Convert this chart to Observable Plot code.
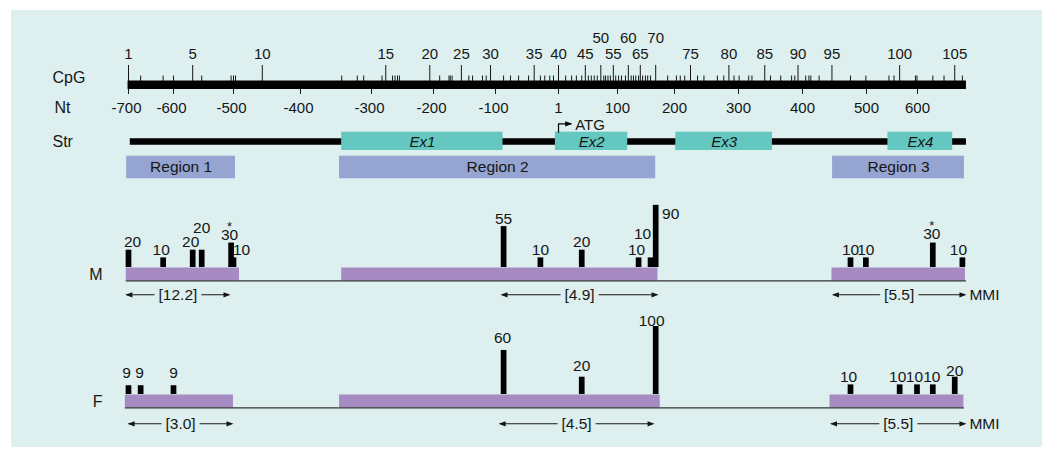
<!DOCTYPE html>
<html><head><meta charset="utf-8">
<script src="https://cdn.jsdelivr.net/npm/d3@7"></script>
<script src="https://cdn.jsdelivr.net/npm/@observablehq/plot@0.6"></script>
<style>
html,body{margin:0;padding:0;background:#fff}
body{width:1050px;height:462px;position:relative;overflow:hidden;font-family:"Liberation Sans",Arial,Helvetica,sans-serif}
#panel{position:absolute;left:11px;top:10px;width:1031px;height:437px;background:#ddf0ef}
.plot{position:absolute;left:0}
</style></head><body>
<div id="panel"></div>
<div id="top" class="plot" style="top:0px"></div>
<div id="mrow" class="plot" style="top:180px"></div>
<div id="frow" class="plot" style="top:300px"></div>
<script>
// ---------- DATA ----------
const ntTicks = [-700,-600,-500,-400,-300,-200,-100,1,100,200,300,400,500,600];
const ntTickLabels = ["-700","-600","-500","-400","-300","-200","-100","1","100","200","300","400","500","600"];
// nucleotide position of each CpG site (1..106)
const cpgNt = [-700,-673,-623,-600,-568,-553,-504,-500,-497,-457,
  -342,-320,-311,-283,-277,-266,-262,-258,-255,-206,
  -190,-175,-173,-170,-155,-143,-137,-121,-115,-108,
  -87,-76,-63,-47,-38,-28,-21,-13,-7,1,
  13,23,31,40,46,51,56,61,66,72,
  77,80,84,88,93,97,102,107,114,119,
  124,128,132,137,140,144,149,153,158,167,
  188,203,209,216,225,236,246,267,277,285,
  293,301,316,321,341,350,366,383,388,393,
  405,410,413,426,446,475,499,544,554,565,
  596,599,630,652,673,688];
const cpgLabels = [1,5,10,15,20,25,30,35,40,45,50,55,60,65,70,75,80,85,90,95,100,105];
const cpgRaised = [50,60,70];
const rulerSpan = [-701,696];
const strSpan = [-696,696];
const exonNames = ["Ex1","Ex2","Ex3","Ex4"];
const exonStart = [-342,-4,202,542];
const exonEnd = [-88,118,353,669];
const atgNt = 1, atgTip = 24;
const regionNames = ["Region 1","Region 2","Region 3"];
const regionStart = [-704,-345,447];
const regionEnd = [-497,167,692];

// M row
const mCpG = [1,3,5,6,8,7,31,36,44,64,69,70,96,97,103,106];
const mPct = [20,10,20,20,10,30,55,10,20,10,10,90,10,10,30,10];
const mStars = [7,103];
const mBoxStart = [-705,-342,446];
const mBoxEnd = [-491,171,694];
const mLine = [-705,696];
const mMMI = [12.2,4.9,5.5];
const mArrowFrom = [-707,-92,446];
const mArrowTo = [-505,172,696];
// F row
const fCpG = [1,2,4,31,44,70,96,100,102,103,105];
const fPct = [9,9,9,60,20,100,10,10,10,10,20];
const fStars = [];
const fBoxStart = [-707,-345,443];
const fBoxEnd = [-500,175,691];
const fLine = [-707,692];
const fMMI = [3.0,4.5,5.5];
const fArrowFrom = [-702,-95,443];
const fArrowTo = [-500,165,696];

// ---------- LAYOUT / STYLE ----------
const FONT = '"Liberation Sans", Arial, Helvetica, sans-serif';
const INK = "#161616", BG = "#ddf0ef", TEAL = "#64c8c0", REGION = "#95a4d0", PURPLE = "#a68bc3";
// schematic (non-uniform) placement of the Nt ticks across the drawing
const ntPx = [128,173,233,300,371,433,495,558,617,674,738,802,866,917];
const ntMap = d3.scaleLinear(ntTicks, ntPx);
const X = {type: "linear", domain: [0, 1050], range: [0, 1050], transform: ntMap, axis: null};
const mid = (a,b) => ntMap.invert((ntMap(a) + ntMap(b)) / 2);
const HEAD = {draw(ctx){ ctx.moveTo(0,0); ctx.lineTo(-7,-2.6); ctx.lineTo(-7,2.6); ctx.closePath(); }};
const labelNudge = {
  M1:[4,0], M3:[-2,0], M5:[-2,0], M6:[0,-14], M7:[-1.5,0], M8:[8,0], M64:[-2,0], M69:[-8,-16], M70:[15,17], M103:[-1,-1], M106:[-4,0],
  F1:[-2,-5], F2:[-1,-5], F4:[0,-5], F31:[-1,-4], F44:[0,-3], F70:[-4,2], F96:[-2,0], F100:[-2,0], F102:[-2.5,0], F103:[-1,0], F105:[0,2]
};
const style = {background: "transparent", fontFamily: FONT, color: INK, overflow: "visible"};

// ---------- TOP: CpG ruler, Nt scale, structure, regions ----------
const exons = exonNames.map((n,i)=>({n, s: exonStart[i], e: exonEnd[i]}));
const regions = regionNames.map((n,i)=>({n, s: regionStart[i], e: regionEnd[i]}));
const cpgIdx = d3.range(1, cpgNt.length + 1);
const topPlot = Plot.plot({
  width: 1050, height: 190, margin: 0,
  x: X, y: {type: "identity", axis: null}, style,
  marks: [
    Plot.ruleX(cpgIdx, {x: i => cpgNt[i-1], y1: i => (i === 1 || i % 5 === 0) ? 65 : 75.5, y2: 81, stroke: INK, strokeWidth: 1}),
    Plot.ruleY([rulerSpan], {x1: d => d[0], x2: d => d[1], y: 84.2, stroke: "#000", strokeWidth: 8.4}),
    Plot.ruleX(ntTicks, {x: d => d, y1: 88, y2: 94, stroke: INK, strokeWidth: 1}),
    Plot.text(ntTicks.filter(d => d < 0), {x: d => d, y: 107.5, text: d => ntTickLabels[ntTicks.indexOf(d)], fontSize: 15, dx: -2, fill: INK}),
    Plot.text(ntTicks.filter(d => d > 0), {x: d => d, y: 107.5, text: d => ntTickLabels[ntTicks.indexOf(d)], fontSize: 15, fill: INK}),
    Plot.text(cpgLabels, {x: n => cpgNt[n-1], y: n => cpgRaised.includes(n) ? 37.2 : 53.3, text: n => String(n), fontSize: 15, fill: INK}),
    Plot.text(["CpG"], {frameAnchor: "left", y: 77, dx: 52, textAnchor: "start", fontSize: 16, fill: INK}),
    Plot.text(["Nt"], {frameAnchor: "left", y: 107.3, dx: 54, textAnchor: "start", fontSize: 16, fill: INK}),
    Plot.text(["Str"], {frameAnchor: "left", y: 141.3, dx: 52, textAnchor: "start", fontSize: 16, fill: INK}),
    Plot.ruleY([strSpan], {x1: d => d[0], x2: d => d[1], y: 141, stroke: "#000", strokeWidth: 6.5}),
    Plot.rect(exons, {x1: "s", x2: "e", y1: 131.7, y2: 150, fill: TEAL}),
    Plot.text(exons, {x: d => mid(d.s, d.e), y: 141.3, text: "n", fontStyle: "italic", fontSize: 15, fill: INK}),
    Plot.line([[atgNt,131.7],[atgNt,123.3],[atgTip-2,123.3]], {x: d => d[0], y: d => d[1], stroke: "#000", strokeWidth: 1.2}),
    Plot.dot([atgTip], {x: d => d, y: 123.3, symbol: HEAD, fill: "#000", stroke: "none"}),
    Plot.text(["ATG"], {x: atgTip, y: 124.2, dx: 3, textAnchor: "start", fontSize: 15, fill: INK}),
    Plot.rect(regions, {x1: "s", x2: "e", y1: 155.7, y2: 178.3, fill: REGION}),
    Plot.text(regions, {x: d => mid(d.s, d.e), y: 166.6, text: "n", fontSize: 15.5, fill: INK})
  ]
});
document.getElementById("top").appendChild(topPlot);

// ---------- M / F rows ----------
function rowPlot(o) {
  const bars = o.cpg.map((c,i) => ({cpg: c, pct: o.pct[i], key: o.name + c}));
  const boxes = o.boxStart.map((s,i) => ({s, e: o.boxEnd[i]}));
  const mmi = o.mmi.map((v,i) => ({v, a: o.from[i], b: o.to[i]}));
  mmi.forEach(d => d.mid = mid(d.a, d.b));
  const nud = d => labelNudge[d.key] || [0,0];
  const labelMarks = bars.map(d => Plot.text([d], {
    x: b => cpgNt[b.cpg-1], y: "pct", text: b => String(b.pct), lineAnchor: "bottom",
    dx: nud(d)[0], dy: -3 + nud(d)[1], fontSize: 15.5, fill: INK}));
  const starMarks = bars.filter(d => o.stars.includes(d.cpg)).map(d => Plot.text([d], {
    x: b => cpgNt[b.cpg-1], y: "pct", text: () => "*", lineAnchor: "bottom",
    dx: nud(d)[0], dy: -3 + nud(d)[1] - 9.5, fontSize: 13, fill: INK}));
  return Plot.plot({
    width: 1050, height: o.height, margin: 0,
    x: X,
    y: {type: "pow", exponent: 0.85, domain: [0,100], range: [o.base, o.base - 68], axis: null},
    style,
    marks: [
      Plot.ruleY(boxes, {x1: "s", x2: "e", y: 0, dy: 6.5, stroke: PURPLE, strokeWidth: 13}),
      Plot.ruleY([o.line], {x1: d => d[0], x2: d => d[1], y: 0, dy: 13.4, stroke: "#333", strokeWidth: 1.2}),
      Plot.ruleX(bars, {x: d => cpgNt[d.cpg-1], y1: 0, y2: "pct", stroke: "#000", strokeWidth: 5.7}),
      labelMarks, starMarks,
      Plot.text([o.name], {frameAnchor: "left", y: 0, dy: 7.5, dx: 102, textAnchor: "end", fontSize: 16, fill: INK}),
      Plot.ruleY(mmi, {x1: d => d.a + 3, x2: d => d.b - 3, y: 0, dy: o.arrowDy, stroke: INK, strokeWidth: 1.1}),
      Plot.dot(mmi, {x: "a", y: 0, dy: o.arrowDy, symbol: HEAD, rotate: 180, fill: INK, stroke: "none"}),
      Plot.dot(mmi, {x: "b", y: 0, dy: o.arrowDy, symbol: HEAD, rotate: 0, fill: INK, stroke: "none"}),
      Plot.text(mmi, {x: "mid", y: 0, dy: o.arrowDy, text: d => `[${d.v.toFixed(1)}]`, fontSize: 15.5, fill: INK, stroke: BG, strokeWidth: 10, paintOrder: "stroke"}),
      Plot.text(["MMI"], {x: o.to[o.to.length-1], y: 0, dy: o.arrowDy, dx: 3, textAnchor: "start", fontSize: 15.5, fill: INK})
    ]
  });
}
document.getElementById("mrow").appendChild(rowPlot({
  name: "M", cpg: mCpG, pct: mPct, stars: mStars, boxStart: mBoxStart, boxEnd: mBoxEnd, line: mLine,
  mmi: mMMI, from: mArrowFrom, to: mArrowTo, height: 130, base: 87, arrowDy: 27.3}));
document.getElementById("frow").appendChild(rowPlot({
  name: "F", cpg: fCpG, pct: fPct, stars: fStars, boxStart: fBoxStart, boxEnd: fBoxEnd, line: fLine,
  mmi: fMMI, from: fArrowFrom, to: fArrowTo, height: 140, base: 94, arrowDy: 29.3}));
</script></body></html>
